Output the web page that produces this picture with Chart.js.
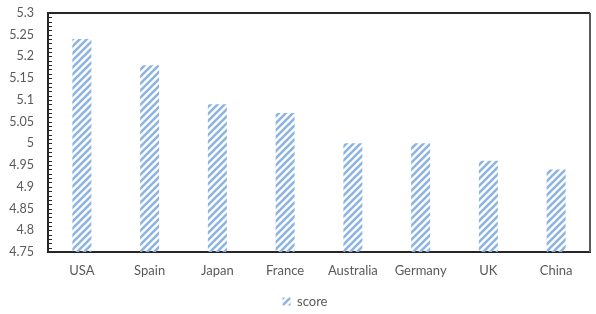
<!DOCTYPE html>
<html>
<head>
<meta charset="utf-8">
<script src="https://cdn.jsdelivr.net/npm/chart.js@4/dist/chart.umd.min.js"></script>
<style>
  body { margin: 0; background: #fff; }
  #wrap { width: 596px; height: 314px; }
</style>
</head>
<body>
<div id="wrap"><canvas id="scoreChart" width="596" height="314"></canvas></div>
<script>
const countries = ['USA', 'Spain', 'Japan', 'France', 'Australia', 'Germany', 'UK', 'China']
const scores = [5.24, 5.18, 5.09, 5.07, 5.0, 5.0, 4.96, 4.94]
const seriesName = 'score'
const yMin = 4.75
const yMax = 5.3
const yStep = 0.05
const yMinorStep = 0.01

function stripePattern(color) {
  const size = 7
  const c = document.createElement('canvas')
  c.width = size
  c.height = size
  const g = c.getContext('2d')
  g.strokeStyle = color
  g.lineWidth = 2.6
  g.beginPath()
  for (let k = -1; k <= 1; k++) {
    g.moveTo(k * size - 1, size + 1)
    g.lineTo(k * size + size + 1, -1)
  }
  g.stroke()
  return g.createPattern(c, 'repeat')
}

const stripes = stripePattern('#8db4e2')

// minor ticks on the left axis + frame round the plot area
const frame = {
  id: 'frame',
  afterLayout(chart) {
    // legend sits a bit right of centre, like the original
    chart.legend.left += 10
    chart.legend.right += 10
  },
  afterDraw(chart) {
    const ctx = chart.ctx
    const a = chart.chartArea
    const y = chart.scales.y
    ctx.save()
    ctx.strokeStyle = '#262626'
    ctx.lineWidth = 1
    ctx.beginPath()
    for (let v = yMin; v <= yMax + 1e-9; v += yMinorStep) {
      const py = Math.round(y.getPixelForValue(v)) + 0.5
      ctx.moveTo(a.left, py)
      ctx.lineTo(a.left + 4, py)
    }
    ctx.stroke()
    ctx.lineWidth = 2
    ctx.strokeStyle = '#262626'
    ctx.beginPath()
    ctx.moveTo(a.left, a.top)
    ctx.lineTo(a.right, a.top)
    ctx.stroke()
    ctx.strokeStyle = '#595959'
    ctx.beginPath()
    ctx.moveTo(a.right, a.top)
    ctx.lineTo(a.right, a.bottom)
    ctx.stroke()
    ctx.restore()
  }
}

const ctx = document.getElementById('scoreChart').getContext('2d')
new Chart(ctx, {
  type: 'bar',
  data: {
    labels: countries,
    datasets: [{
      label: seriesName,
      data: scores,
      backgroundColor: stripes,
      borderWidth: 0,
      barPercentage: 0.28,
      categoryPercentage: 1
    }]
  },
  options: {
    responsive: false,
    animation: false,
    layout: { padding: { top: 13, right: 6, left: 0, bottom: -4 } },
    plugins: {
      legend: {
        display: true,
        position: 'bottom',
        labels: {
          boxWidth: 8,
          boxHeight: 8,
          color: '#595959',
          font: { family: 'Lato', size: 13 },
          padding: 6
        }
      },
      tooltip: { enabled: false },
      title: { display: false }
    },
    scales: {
      x: {
        grid: { display: false, drawTicks: false },
        border: { display: true, color: '#262626', width: 2 },
        ticks: { color: '#595959', font: { family: 'Lato', size: 13 }, padding: 11 },
        afterFit: function(scale) {
          scale.height = 37
          scale.paddingLeft = 0
          scale.paddingRight = 0
        }
      },
      y: {
        min: yMin,
        max: yMax,
        grid: { display: false, drawTicks: false },
        border: { display: true, color: '#262626', width: 2 },
        ticks: {
          stepSize: yStep,
          color: '#595959',
          font: { family: 'Lato', size: 12.5 },
          padding: 14,
          callback: function(value) {
            return String(+value.toFixed(2))
          }
        },
        afterFit: function(scale) {
          scale.width = 48
          scale.paddingTop = 0
          scale.paddingBottom = 0
        }
      }
    }
  },
  plugins: [frame]
})
</script>
</body>
</html>
